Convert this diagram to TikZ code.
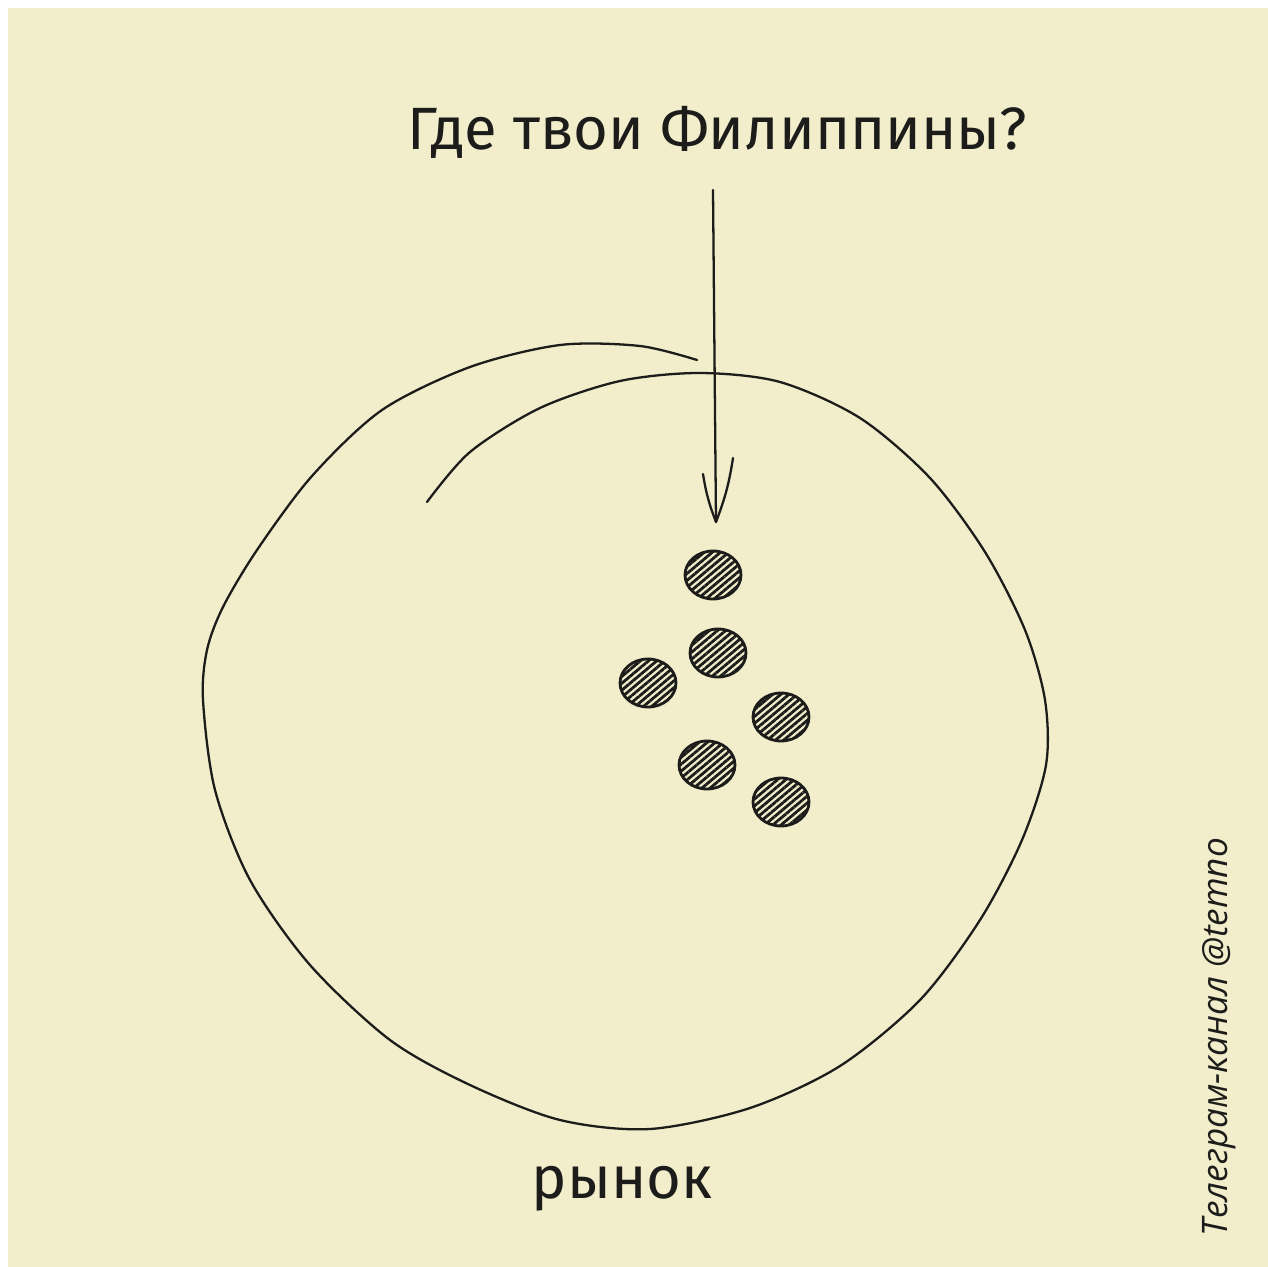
\documentclass[tikz,border=0pt]{standalone}
\usepackage{fontspec}
\newfontfamily\handfont{Fira Sans}
\newfontfamily\signfont{Open Sans}
\usetikzlibrary{patterns.meta, shapes.geometric}
\definecolor{paper}{HTML}{F2EDCB}
\definecolor{ink}{HTML}{1C1C1A}

\begin{document}
\begin{tikzpicture}[x=0.02cm,y=-0.02cm,pen/.style={draw=ink,line width=1.3pt,line cap=round,line join=round},spot/.style={ellipse,draw=ink,line width=1.6pt,minimum width=1.12cm,minimum height=0.96cm,inner sep=0pt,pattern={Lines[angle=40,distance=3pt,line width=1.6pt]},pattern color=ink},hand/.style={font=\handfont\fontsize{34}{40}\selectfont,text=ink,anchor=base,inner sep=0pt},sign/.style={font=\signfont\itshape\fontsize{20}{24}\selectfont,text=ink,rotate=90,inner sep=0pt}]
\useasboundingbox (0,0) rectangle (1268,1267);
\fill[white] (0,0) rectangle (1268,1267);
\fill[paper] (8,8) rectangle (1268,1267);
\node[hand] (q) at (717,150) {Где твои Филиппины?};
\node[hand] (m) at (622,1198) {рынок};
\node[sign] (s) at (1219,1037) {Телеграм-канал @temno};
\draw[pen] plot[smooth] coordinates {(427,502) (470,452) (540,408) (620,381) (700,373) (780,382) (860,418) (930,478) (985,552) (1025,630) (1045,700) (1046,765) (1022,840) (980,920) (920,1000) (840,1066) (750,1108) (650,1129) (560,1120) (470,1085) (390,1040) (310,965) (250,880) (215,790) (203,700) (207,650) (223,607) (257,550) (312,476) (382,410) (470,367) (560,345) (640,346) (697,360)};
\node[spot] (p1) at (713,575) {};
\node[spot] (p2) at (718,653) {};
\node[spot] (p3) at (648,683) {};
\node[spot] (p4) at (781,717) {};
\node[spot] (p5) at (707,765) {};
\node[spot] (p6) at (781,802) {};
\coordinate (tail) at (713,190);
\coordinate (tip) at (716,522);
\draw[pen] (tail) -- (tip);
\draw[pen] (703,474) to[bend right=6] (tip) to[bend right=6] (733,458);
\end{tikzpicture}
\end{document}
